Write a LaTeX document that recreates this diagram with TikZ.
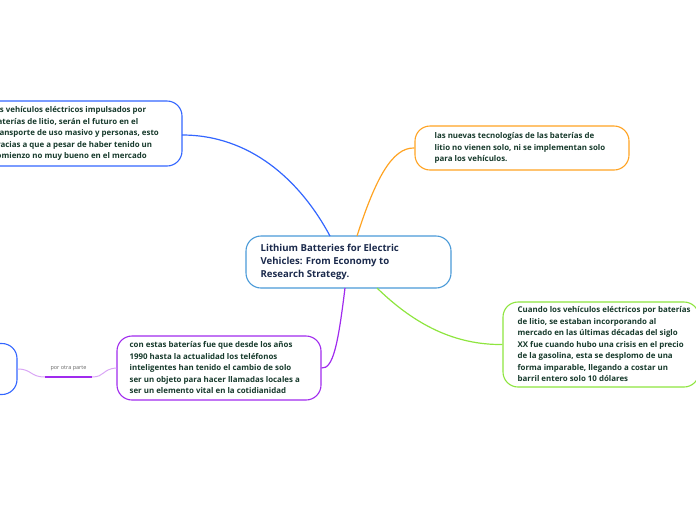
\documentclass[tikz,border=0pt]{standalone}
\usepackage{fontspec}
\setmainfont{Open Sans}
\definecolor{txtg}{HTML}{173A2C}
\definecolor{txtc}{HTML}{1B2A4C}
\definecolor{cblue}{HTML}{4A9AD8}
\definecolor{tlblue}{HTML}{3366FF}
\definecolor{corange}{HTML}{FFA322}
\definecolor{cgreen}{HTML}{8EE53F}
\definecolor{cpurple}{HTML}{A02BEE}
\definecolor{lpurple}{HTML}{D9A6F5}
\begin{document}
\begin{tikzpicture}[x=1pt,y=-1pt,
  box/.style={draw, rounded corners=15pt, line width=1.1pt, fill=white, inner sep=0pt, anchor=center},
  txt/.style={align=left, inner sep=0pt, anchor=west, font=\bfseries\fontsize{7.9}{11.5}\selectfont, text=txtg},
  conn/.style={line width=1.2pt}]
\useasboundingbox (0,0) rectangle (696,520);
% boxes
\node[box, draw=tlblue, minimum width=204pt, minimum height=65pt] (tlb) at (80,133.5) {};
\node[box, draw=corange, minimum width=214pt, minimum height=44pt] (orb) at (522,148) {};
\node[box, draw=cgreen, minimum width=196pt, minimum height=85pt] (grb) at (601,344.5) {};
\node[box, draw=cpurple, minimum width=204pt, minimum height=64pt] (pub) at (219,368) {};
\node[box, draw=tlblue, minimum width=120pt, minimum height=51pt] (lfb) at (-43,369) {};
\node[box, draw=cblue, minimum width=205pt, minimum height=52pt] (ceb) at (348.5,262) {};
% texts
\node[txt] (tl) at ([xshift=15pt]tlb.west)
{los vehículos eléctricos impulsados por\\baterías de litio, serán el futuro en el\\transporte de uso masivo y personas, esto\\gracias a que a pesar de haber tenido un\\comienzo no muy bueno en el mercado};
\node[txt] (or) at ([xshift=20pt]orb.west)
{las nuevas tecnologías de las baterías de\\litio no vienen solo, ni se implementan solo\\para los vehículos.};
\node[txt] (gr) at ([xshift=15pt]grb.west)
{Cuando los vehículos eléctricos por baterías\\de litio, se estaban incorporando al\\mercado en las últimas décadas del siglo\\XX fue cuando hubo una crisis en el precio\\de la gasolina, esta se desplomo de una\\forma imparable, llegando a costar un\\barril entero solo 10 dólares};
\node[txt] (pu) at ([xshift=13pt]pub.west)
{con estas baterías fue que desde los años\\1990 hasta la actualidad los teléfonos\\inteligentes han tenido el cambio de solo\\ser un objeto para hacer llamadas locales a\\ser un elemento vital en la cotidianidad};
\node[txt, text=txtc, font=\bfseries\fontsize{9.6}{13}\selectfont] (ce) at ([xshift=15pt]ceb.west)
{Lithium Batteries for Electric\\Vehicles: From Economy to\\Research Strategy.};
% connectors
\coordinate (ctl) at (330,236);
\coordinate (cor) at (357,236);
\coordinate (cpu) at (345,288);
\coordinate (cgr) at (377,288);
\coordinate (la) at (45,377);
\coordinate (lb) at (92,377);
\coordinate (tla) at (182,135);
\draw[conn, tlblue] (tla) .. controls (250,135) and (300,180) .. (ctl);
\draw[conn, corange] (cor) .. controls (375,180) and (392,147) .. (orb.west);
\draw[conn, cgreen] (cgr) .. controls (415,325) and (455,345) .. (grb.west);
\draw[conn, cpurple] (cpu) .. controls (338,345) and (333,369) .. (pub.east);
\draw[line width=1pt, lpurple] (lfb.east) .. controls (32,369) and (30,377) .. (la);
\draw[line width=1pt, lpurple] (lb) .. controls (105,377) and (102,369) .. (pub.west);
\draw[line width=2pt, cpurple] (la) -- (lb) node[midway, above=2pt, text=gray!80!black, font=\fontsize{5.5}{6}\selectfont] (lbl) {por otra parte};
\end{tikzpicture}
\end{document}
